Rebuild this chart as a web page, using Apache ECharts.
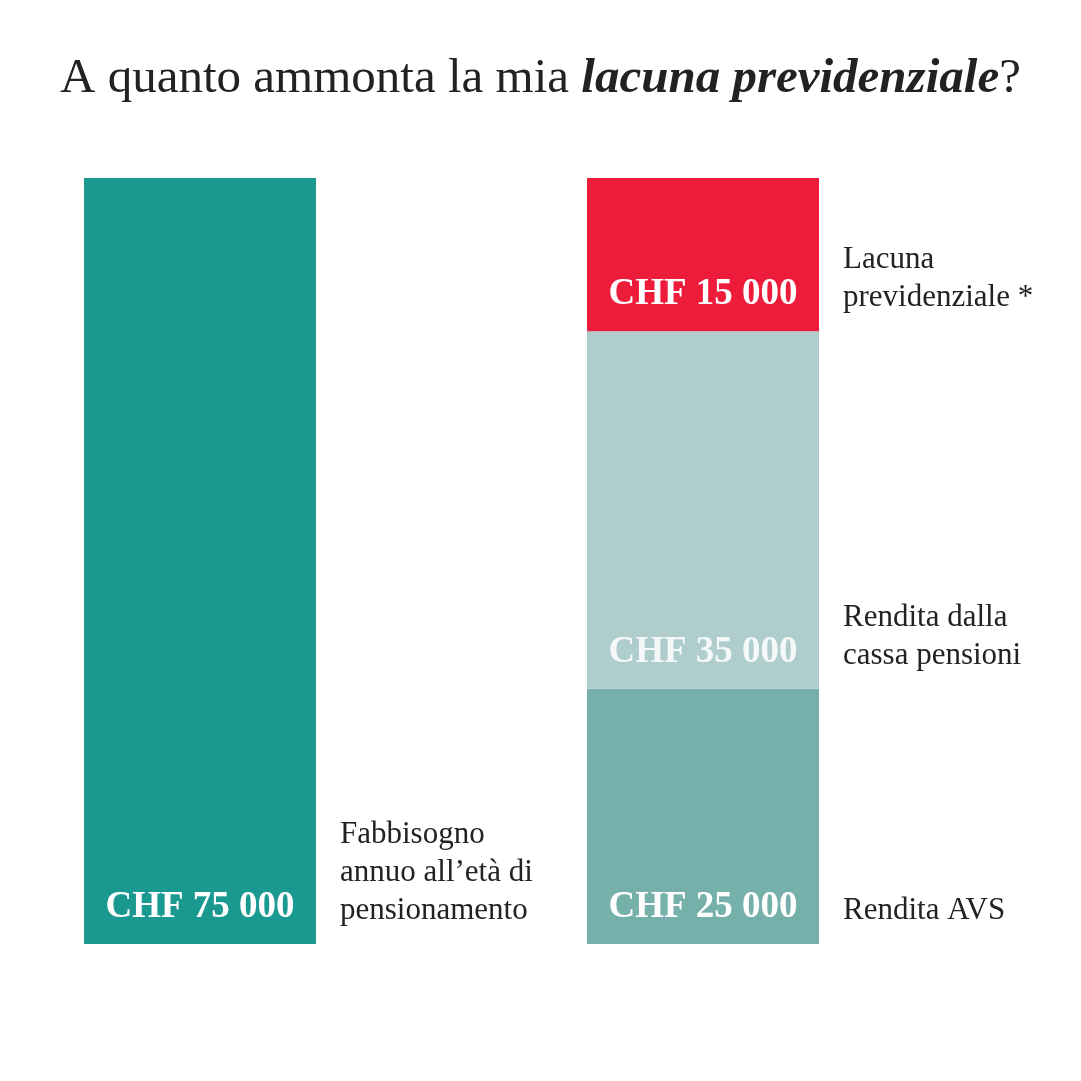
<!DOCTYPE html>
<html><head><meta charset="utf-8">
<script src="https://cdn.jsdelivr.net/npm/echarts@6/dist/echarts.min.js"></script>
<style>html,body{margin:0;background:#fff}#main{width:1081px;height:1081px}</style>
</head><body><div id="main"></div>
<script>
var categories = ['Fabbisogno', 'Composizione'];
var avs = [null, 25000];
var cassa = [null, 35000];
var lacuna = [null, 15000];
var fabbisogno = [75000, null];
// side captions, anchored at the bottom of their segment
var sideTexts = [
  {cat: 0, base: 0, text: 'Fabbisogno\nannuo all\u2019et\u00e0 di\npensionamento'},
  {cat: 1, base: 0, text: 'Rendita AVS'},
  {cat: 1, base: 25000, text: 'Rendita dalla\ncassa pensioni'},
  {cat: 1, base: 60000, text: 'Lacuna\nprevidenziale *'}
];
var FONT = '"Liberation Serif", "DejaVu Serif", serif';

var chart = echarts.init(document.getElementById('main'));
function lbl(color) {
  return {show: true, position: 'insideBottom', distance: 18, color: color,
    fontFamily: FONT, fontWeight: 'bold', fontSize: 37,
    formatter: function (p) { return 'CHF ' + String(p.value).replace(/\B(?=(\d{3})+$)/g, ' '); }};
}
chart.setOption({
  animation: false,
  title: {
    text: 'A quanto ammonta la mia {b|lacuna previdenziale}?',
    left: 'center', top: 50,
    textStyle: {fontFamily: FONT, fontSize: 49, fontWeight: 'normal', color: '#222',
      rich: {b: {fontFamily: FONT, fontSize: 49, fontWeight: 'bold', fontStyle: 'italic', color: '#222'}}}
  },
  grid: {left: 200, right: 378, top: 178, bottom: 137},
  xAxis: {type: 'category', data: categories, boundaryGap: false, show: false},
  yAxis: {type: 'value', min: 0, max: 75000, show: false},
  series: [
    {type: 'bar', stack: 'a', data: fabbisogno, barWidth: 232, itemStyle: {color: '#1a9990'}, label: lbl('#fff')},
    {type: 'bar', stack: 'b', data: avs, barWidth: 232, barGap: '-100%', itemStyle: {color: '#76b0ab'}, label: lbl('#fff')},
    {type: 'bar', stack: 'b', data: cassa, barWidth: 232, itemStyle: {color: '#aecdcc'}, label: lbl('#f4f8f8')},
    {type: 'bar', stack: 'b', data: lacuna, barWidth: 232, itemStyle: {color: '#ed1c3a'}, label: lbl('#fff')}
  ]
});

var els = sideTexts.map(function (s) {
  var p = chart.convertToPixel({gridIndex: 0}, [s.cat, s.base]);
  return {type: 'text', x: p[0] + 140, y: p[1] - 14,
    style: {text: s.text, fontFamily: FONT, fontSize: 31, lineHeight: 38, fill: '#222',
      verticalAlign: 'bottom'}};
});
chart.setOption({graphic: els});
</script>
</body></html>
